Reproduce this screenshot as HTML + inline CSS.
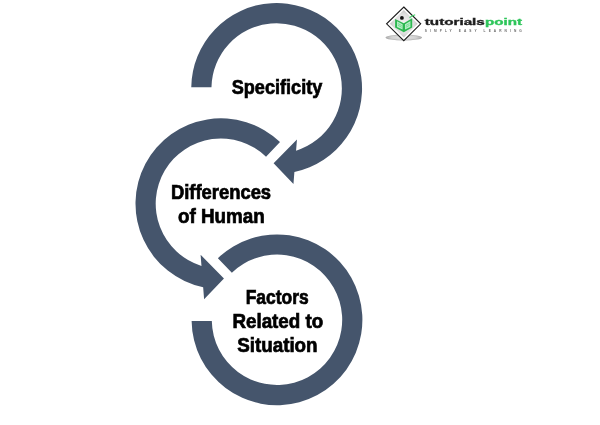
<!DOCTYPE html>
<html><head><meta charset="utf-8"><style>
html,body{margin:0;padding:0;background:#fff;width:600px;height:425px;overflow:hidden}
svg{display:block;will-change:transform}
.t{font-family:"Liberation Sans",sans-serif;font-weight:bold;font-size:20px;fill:#000;stroke:#000;stroke-width:0.7px}
</style></head><body>
<svg width="600" height="425" viewBox="0 0 600 425">
<rect width="600" height="425" fill="#fff"/>
<g fill="#45556C" stroke="#fff" stroke-width="0">
<path d="M217.89,258.16 A85.4 85.4 0 1 1 191.61,321.00 L211.81,321.00 A65.2 65.2 0 1 0 231.87,272.74 Z"/>
<path d="M280.01,142.06 A85.4 85.4 0 1 0 203.16,287.24 L204.10,299.20 L223.95,278.60 L200.60,254.70 L201.48,265.94 A65.2 65.2 0 1 1 266.03,156.64 Z"/>
<path d="M191.26,87.20 L211.46,87.20 A65.2 65.2 0 1 1 296.07,150.64 L296.95,139.40 L273.60,163.30 L293.45,183.90 L294.39,171.94 A85.4 85.4 0 1 0 191.26,87.20 Z"/>
</g>
<g id="logo">
<defs>
<radialGradient id="lg" cx="50%" cy="50%" r="50%"><stop offset="0" stop-color="#f4f4f4"/><stop offset="0.7" stop-color="#dedede"/><stop offset="1" stop-color="#c4c4c4"/></radialGradient>
<radialGradient id="sh" cx="50%" cy="50%" r="50%"><stop offset="0" stop-color="#e8e8e8"/><stop offset="0.7" stop-color="#d0d0d0"/><stop offset="1" stop-color="#a8a8a8"/></radialGradient>
</defs>
<ellipse cx="403.8" cy="37.5" rx="18.3" ry="3" fill="url(#sh)"/>
<path d="M403.8,7 L420.7,23.8 L403.8,40.7 L386.6,23.8 Z" fill="#fff" stroke="#1c1c1c" stroke-width="1.1"/>
<path d="M403.8,10 L417.6,23.8 L403.8,37.6 L389.9,23.8 Z" fill="url(#lg)"/>
<path d="M395.1,19.1 L403.8,23.3 L412.2,18.3 L412.2,27.5 L403.8,32.2 L395.1,27.5 Z" fill="#2cb850"/>
<path d="M397,21.3 L402.6,24.3 L402.6,29.5 L397,26.9 Z M405,24.3 L410.4,21.1 L410.4,26.9 L405,29.5 Z" fill="#b8f0c8"/>
<path d="M397.8,23.5 L401.8,25.6 M397.8,25.2 L401.8,27.3 M405.8,25.6 L409.6,23.5 M405.8,27.3 L409.6,25.2" stroke="#5cd07c" stroke-width="0.7"/>
<circle cx="401.9" cy="17.9" r="1.9" fill="#111"/>
<path d="M409.5,17.8 L411.5,16.2 L415.2,14.8" fill="none" stroke="#45d36c" stroke-width="1.1"/>
</g>
<g font-family="Liberation Sans, sans-serif" font-weight="bold">
<text x="424.8" y="24.6" font-size="9" textLength="60" lengthAdjust="spacingAndGlyphs" fill="#1e1e1e" stroke="#1e1e1e" stroke-width="0.35">tutorials</text>
<text x="485" y="24.6" font-size="9" textLength="37" lengthAdjust="spacingAndGlyphs" fill="#2ec55a" stroke="#2ec55a" stroke-width="0.35">point</text>
<text x="424.8" y="31.8" font-size="3.2" textLength="97" lengthAdjust="spacing" fill="#6a6a6a">SIMPLY EASY LEARNING</text>
</g>
<g class="t" text-anchor="middle">
<text x="277" y="93.6" textLength="90.5" lengthAdjust="spacingAndGlyphs">Specificity</text>
<text x="221" y="199" textLength="100.2" lengthAdjust="spacingAndGlyphs">Differences</text>
<text x="221.3" y="223" textLength="86.7" lengthAdjust="spacingAndGlyphs">of Human</text>
<text x="277.2" y="304" textLength="63" lengthAdjust="spacingAndGlyphs">Factors</text>
<text x="277.8" y="327.5" textLength="90.7" lengthAdjust="spacingAndGlyphs">Related to</text>
<text x="277.4" y="351.5" textLength="80.4" lengthAdjust="spacingAndGlyphs">Situation</text>
</g>
</svg>
</body></html>
